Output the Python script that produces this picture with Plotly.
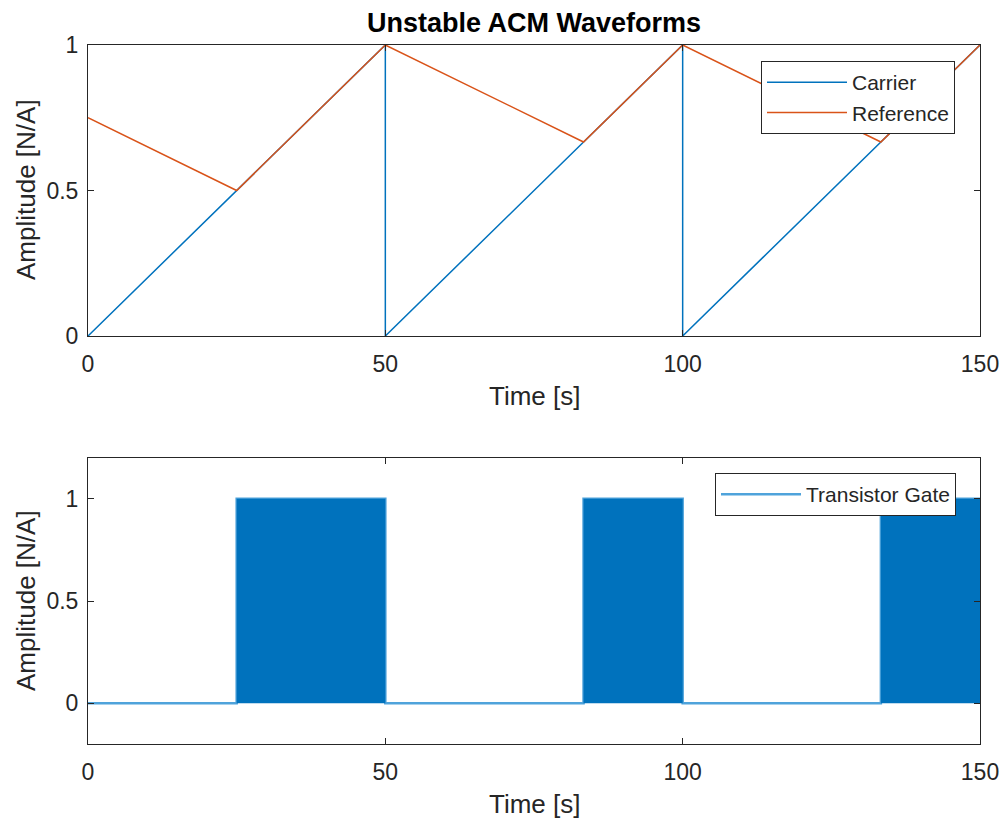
import plotly.graph_objects as go

# Top panel data
carrier_t = [0, 50, 50, 100, 100, 150]
carrier_v = [0, 1, 0, 1, 0, 1]
reference_t = [0, 25, 50, 83.33, 100, 133.33, 150]
reference_v = [0.75, 0.5, 1, 0.6667, 1, 0.6667, 1]

# Bottom panel data (gate on/off envelope)
gate_t = [0, 25, 25, 50, 50, 83.33, 83.33, 100, 100, 133.33, 133.33, 150]
gate_v = [0, 0, 1, 1, 0, 0, 1, 1, 0, 0, 1, 1]

x_ticks = [0, 50, 100, 150]
y_ticks = [0, 0.5, 1]
y_tick_text = ["0", "0.5", "1"]

BLUE = "#0072BD"
ORANGE = "#D95319"
AX = "#262626"
FONT = "Liberation Sans, Arial, Helvetica, sans-serif"

fig = go.Figure()
fig.add_trace(go.Scatter(x=carrier_t, y=carrier_v, mode="lines", name="Carrier",
                         line=dict(color=BLUE, width=1.5), xaxis="x", yaxis="y", legend="legend"))
fig.add_trace(go.Scatter(x=reference_t, y=reference_v, mode="lines", name="Reference",
                         line=dict(color=ORANGE, width=1.5), xaxis="x", yaxis="y", legend="legend"))
fig.add_trace(go.Scatter(x=gate_t, y=gate_v, mode="lines", name="Transistor Gate",
                         line=dict(color="#4FA3DB", width=2.5), xaxis="x2", yaxis="y2", legend="legend2"))
fig.add_trace(go.Scatter(x=gate_t, y=gate_v, mode="lines", name="Transistor Gate",
                         line=dict(color=BLUE, width=0), fill="tozeroy", fillcolor=BLUE,
                         showlegend=False, hoverinfo="skip", xaxis="x2", yaxis="y2"))

W, H = 1003, 823
x0, x1 = 88 / W, 980 / W
axis_common = dict(showgrid=False, zeroline=False, showline=True, mirror="ticks",
                   linecolor=AX, linewidth=1, ticks="inside", ticklen=6, tickcolor=AX,
                   automargin=False,
                   tickfont=dict(size=23, color=AX, family=FONT))

fig.update_layout(
    width=W, height=H,
    margin=dict(l=0, r=0, t=0, b=0, autoexpand=False),
    paper_bgcolor="white", plot_bgcolor="white",
    font=dict(family=FONT, color=AX),
    xaxis=dict(domain=[x0, x1], range=[0, 150], tickvals=x_ticks, anchor="y",
               ticklabelstandoff=7, **axis_common),
    yaxis=dict(domain=[1 - 336 / H, 1 - 45 / H], range=[0, 1], tickvals=y_ticks,
               ticktext=y_tick_text, anchor="x", ticklabelstandoff=4, **axis_common),
    xaxis2=dict(domain=[x0, x1], range=[0, 150], tickvals=x_ticks, anchor="y2",
                ticklabelstandoff=7, **axis_common),
    yaxis2=dict(domain=[1 - 744 / H, 1 - 458 / H], range=[-0.2, 1.2], tickvals=y_ticks,
                ticktext=y_tick_text, anchor="x2", ticklabelstandoff=4, **axis_common),
    showlegend=True,
    legend=dict(x=955 / W, y=1 - 61 / H, xanchor="right", yanchor="top",
                bgcolor="white", bordercolor=AX, borderwidth=1, itemwidth=80,
                font=dict(size=21, color=AX, family=FONT), tracegroupgap=0),
    legend2=dict(x=956 / W, y=1 - 473 / H, xanchor="right", yanchor="top",
                 bgcolor="white", bordercolor=AX, borderwidth=1, itemwidth=80,
                 font=dict(size=21, color=AX, family=FONT)),
    title=dict(text="<b>Unstable ACM Waveforms</b>", x=534 / W, xanchor="center",
               y=1 - 23 / H, yanchor="middle", font=dict(size=27, color="black", family=FONT)),
)

ann = dict(xref="paper", yref="paper", showarrow=False, font=dict(size=26, color=AX, family=FONT))
fig.add_annotation(text="Time [s]", x=534 / W, y=1 - 396 / H, xanchor="center", yanchor="middle", **ann)
fig.add_annotation(text="Time [s]", x=534 / W, y=1 - 804 / H, xanchor="center", yanchor="middle", **ann)
fig.add_annotation(text="Amplitude [N/A]", x=26 / W, y=1 - 190 / H, textangle=-90,
                   xanchor="center", yanchor="middle", **ann)
fig.add_annotation(text="Amplitude [N/A]", x=26 / W, y=1 - 601 / H, textangle=-90,
                   xanchor="center", yanchor="middle", **ann)

fig.write_html("out.html", post_script="document.body.style.margin='0';")
